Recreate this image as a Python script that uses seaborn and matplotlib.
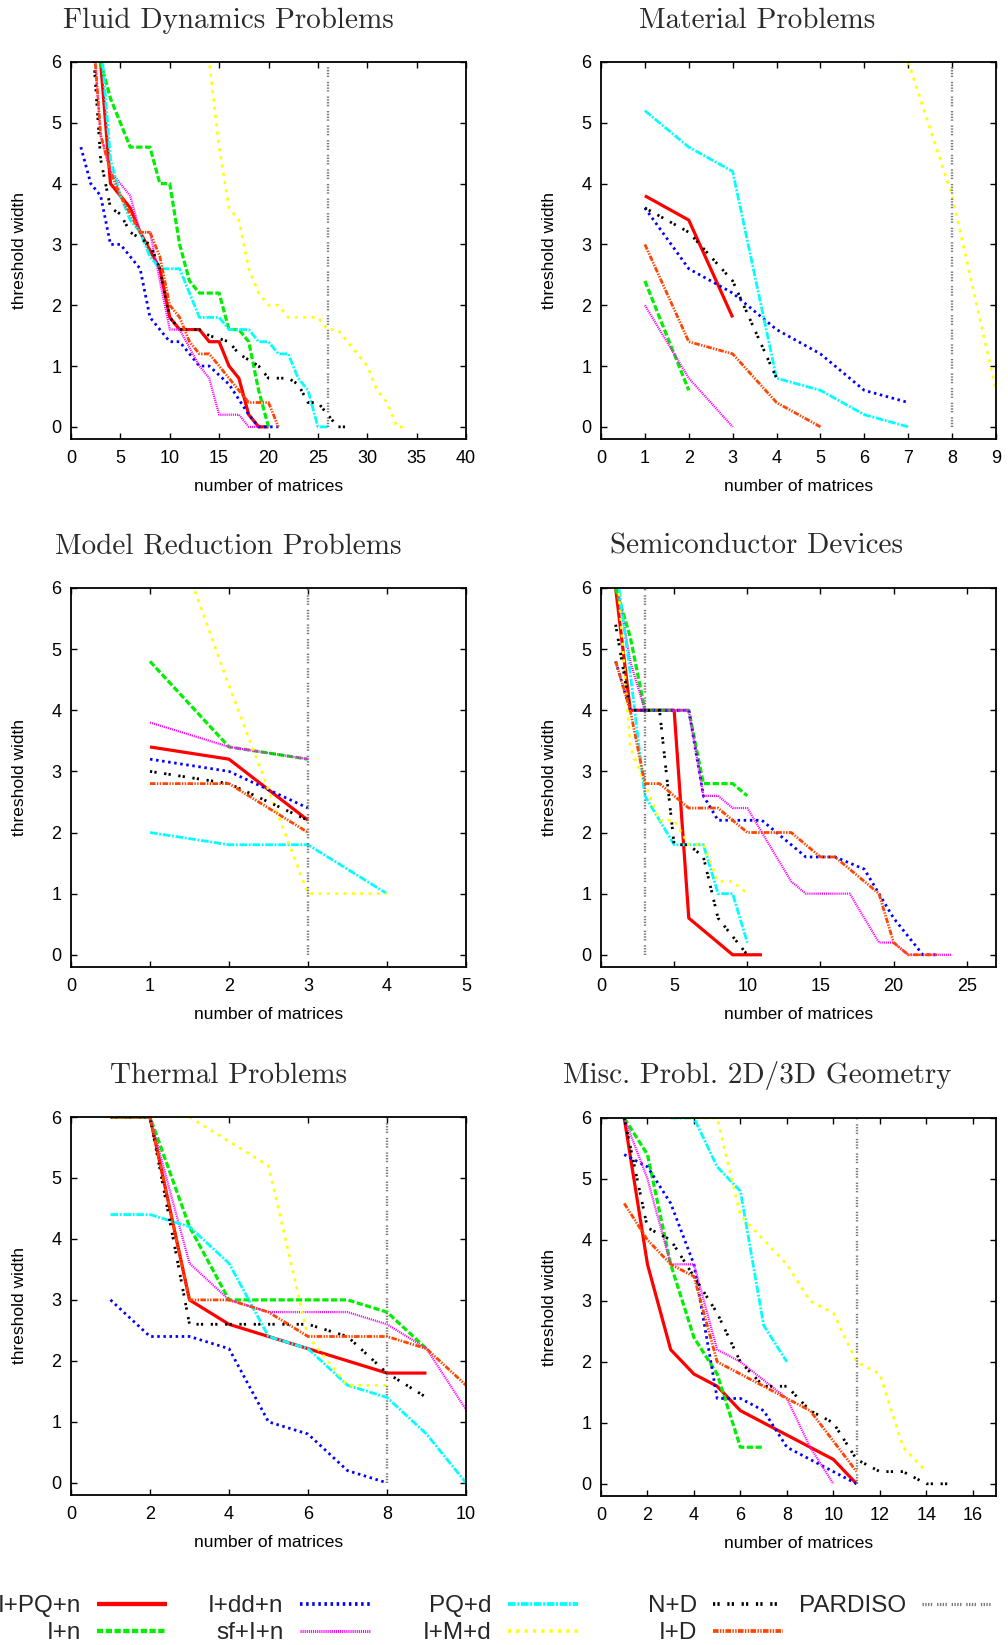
import matplotlib
matplotlib.use("Agg")
import matplotlib.pyplot as plt
import pandas as pd
import seaborn as sns

# ---------------- data ----------------
SERIES = ["I+PQ+n", "I+n", "I+dd+n", "sf+I+n", "PQ+d", "I+M+d", "N+D", "I+D"]

TITLES = ["Fluid Dynamics Problems", "Material Problems", "Model Reduction Problems",
          "Semiconductor Devices", "Thermal Problems", "Misc. Probl. 2D/3D Geometry"]

PARDISO_X = [26, 8, 3, 3, 8, 11]

XMAX = [40, 9, 5, 27, 10, 17]
XTICK_STEP = [5, 1, 1, 5, 2, 2]

FLUID = {
    "I+PQ+n": ([3, 4, 5, 6, 7, 9, 10, 11, 13, 14, 15, 16, 17, 18, 19, 20],
               [6.0, 4.0, 3.8, 3.6, 3.2, 2.6, 1.8, 1.6, 1.6, 1.4, 1.4, 1.0, 0.8, 0.2, 0.0, 0.0]),
    "I+n": ([3, 4, 5, 6, 8, 9, 10, 11, 12, 13, 15, 16, 17, 18, 19, 20],
            [6.0, 5.4, 5.0, 4.6, 4.6, 4.0, 4.0, 3.0, 2.4, 2.2, 2.2, 1.6, 1.6, 1.4, 0.6, 0.0]),
    "I+dd+n": ([1, 2, 3, 4, 5, 7, 8, 10, 11, 13, 14, 16, 18, 19, 21],
               [4.6, 4.0, 3.8, 3.0, 3.0, 2.6, 1.8, 1.4, 1.4, 1.0, 1.0, 0.7, 0.2, 0.0, 0.0]),
    "sf+I+n": ([2, 3, 4, 5, 6, 7, 8, 9, 10, 11, 12, 13, 14, 15, 17, 18, 19],
               [7.0, 4.8, 4.2, 4.0, 3.8, 3.2, 3.2, 2.4, 1.6, 1.6, 1.3, 1.0, 0.8, 0.2, 0.2, 0.0, 0.0]),
    "PQ+d": ([3, 4, 5, 6, 7, 8, 9, 11, 12, 13, 15, 16, 18, 19, 20, 21, 22, 23, 24, 25, 26],
             [6.4, 4.4, 3.8, 3.4, 3.2, 2.8, 2.6, 2.6, 2.2, 1.8, 1.8, 1.6, 1.6, 1.4, 1.4, 1.2, 1.2, 0.8, 0.6, 0.0, 0.0]),
    "I+M+d": ([13, 14, 15, 16, 17, 18, 19, 20, 21, 22, 25, 26, 27, 28, 29, 30, 31, 32, 33, 34],
              [7.6, 6.0, 4.6, 3.6, 3.4, 2.6, 2.2, 2.0, 2.0, 1.8, 1.8, 1.6, 1.6, 1.4, 1.2, 1.0, 0.6, 0.4, 0.0, 0.0]),
    "N+D": ([2, 3, 4, 5, 6, 8, 9, 10, 11, 13, 14, 16, 17, 19, 20, 22, 23, 24, 25, 26, 27, 28],
            [6.8, 4.4, 3.6, 3.5, 3.2, 3.0, 2.6, 1.8, 1.6, 1.6, 1.5, 1.4, 1.2, 1.0, 0.8, 0.8, 0.7, 0.4, 0.4, 0.2, 0.0, 0.0]),
    "I+D": ([2, 3, 4, 5, 6, 7, 8, 9, 10, 11, 12, 13, 14, 16, 18, 20, 21],
            [7.0, 4.8, 4.2, 3.8, 3.5, 3.2, 3.2, 2.8, 2.0, 1.8, 1.4, 1.2, 1.2, 0.8, 0.4, 0.4, 0.0]),
}

MATERIAL = {
    "I+PQ+n": ([1, 2, 3], [3.8, 3.4, 1.8]),
    "I+n": ([1, 2], [2.4, 0.6]),
    "I+dd+n": ([1, 2, 3, 4, 5, 6, 7], [3.6, 2.6, 2.2, 1.6, 1.2, 0.6, 0.4]),
    "sf+I+n": ([1, 2, 3], [2.0, 0.8, 0.0]),
    "PQ+d": ([1, 2, 3, 4, 5, 6, 7], [5.2, 4.6, 4.2, 0.8, 0.6, 0.2, 0.0]),
    "I+M+d": ([7, 8, 9], [6.0, 3.8, 0.6]),
    "N+D": ([1, 2, 3, 4], [3.6, 3.2, 2.4, 0.8]),
    "I+D": ([1, 2, 3, 4, 5], [3.0, 1.4, 1.2, 0.4, 0.0]),
}

MODEL = {
    "I+PQ+n": ([1, 2, 3], [3.4, 3.2, 2.2]),
    "I+n": ([1, 2, 3], [4.8, 3.4, 3.2]),
    "I+dd+n": ([1, 2, 3], [3.2, 3.0, 2.4]),
    "sf+I+n": ([1, 2, 3], [3.8, 3.4, 3.2]),
    "PQ+d": ([1, 2, 3, 4], [2.0, 1.8, 1.8, 1.0]),
    "I+M+d": ([1, 2, 3, 4], [8.0, 4.4, 1.0, 1.0]),
    "N+D": ([1, 2, 3], [3.0, 2.8, 2.2]),
    "I+D": ([1, 2, 3], [2.8, 2.8, 2.0]),
}

SEMI = {
    "I+PQ+n": ([1, 2, 5, 6, 9, 11], [6.0, 4.0, 4.0, 0.6, 0.0, 0.0]),
    "I+n": ([1, 2, 3, 6, 7, 9, 10], [6.0, 5.2, 4.0, 4.0, 2.8, 2.8, 2.6]),
    "I+dd+n": ([1, 2, 6, 7, 8, 11, 12, 14, 16, 18, 19, 20, 21, 22, 23],
               [4.8, 4.0, 4.0, 2.6, 2.2, 2.2, 2.0, 1.6, 1.6, 1.4, 1.0, 0.6, 0.3, 0.0, 0.0]),
    "sf+I+n": ([1, 2, 3, 6, 7, 8, 9, 10, 11, 13, 14, 17, 19, 20, 21, 24],
               [6.2, 4.8, 4.0, 4.0, 2.6, 2.6, 2.4, 2.4, 2.0, 1.2, 1.0, 1.0, 0.2, 0.2, 0.0, 0.0]),
    "PQ+d": ([1, 2, 3, 4, 5, 7, 8, 9, 10], [6.4, 4.6, 2.6, 2.2, 1.8, 1.8, 1.0, 1.0, 0.2]),
    "I+M+d": ([1, 2, 3, 4, 5, 6, 7, 8, 9, 10], [6.6, 3.4, 2.8, 2.2, 2.2, 1.8, 1.8, 1.2, 1.2, 1.0]),
    "N+D": ([1, 2, 4, 5, 6, 7, 8, 9, 10], [5.4, 4.0, 4.0, 1.8, 1.8, 1.6, 0.6, 0.3, 0.0]),
    "I+D": ([1, 2, 3, 4, 6, 8, 10, 13, 15, 16, 19, 20, 21, 23],
            [4.8, 4.0, 2.8, 2.8, 2.4, 2.4, 2.0, 2.0, 1.6, 1.6, 1.0, 0.2, 0.0, 0.0]),
}

THERMAL = {
    "I+PQ+n": ([1, 2, 3, 4, 6, 8, 9], [6.0, 6.0, 3.0, 2.6, 2.2, 1.8, 1.8]),
    "I+n": ([1, 2, 3, 4, 7, 8, 9], [6.0, 6.0, 4.2, 3.0, 3.0, 2.8, 2.2]),
    "I+dd+n": ([1, 2, 3, 4, 5, 6, 7, 8], [3.0, 2.4, 2.4, 2.2, 1.0, 0.8, 0.2, 0.0]),
    "sf+I+n": ([1, 2, 3, 4, 5, 7, 8, 9, 10], [6.0, 6.0, 3.6, 3.0, 2.8, 2.8, 2.6, 2.2, 1.2]),
    "PQ+d": ([1, 2, 3, 4, 5, 6, 7, 8, 9, 10], [4.4, 4.4, 4.2, 3.6, 2.4, 2.2, 1.6, 1.4, 0.8, 0.0]),
    "I+M+d": ([3, 5, 6, 7, 8], [6.0, 5.2, 2.4, 1.6, 1.6]),
    "N+D": ([1, 2, 3, 6, 7, 8, 9], [6.0, 6.0, 2.6, 2.6, 2.4, 1.8, 1.4]),
    "I+D": ([1, 2, 3, 4, 5, 6, 8, 9, 10], [6.0, 6.0, 3.0, 3.0, 2.8, 2.4, 2.4, 2.2, 1.6]),
}

MISC = {
    "I+PQ+n": ([1, 2, 3, 4, 5, 6, 7, 8, 9, 10, 11], [6.0, 3.6, 2.2, 1.8, 1.6, 1.2, 1.0, 0.8, 0.6, 0.4, 0.0]),
    "I+n": ([1, 2, 3, 4, 5, 6, 7], [6.0, 5.4, 3.6, 2.4, 1.8, 0.6, 0.6]),
    "I+dd+n": ([1, 2, 3, 4, 5, 6, 7, 8, 9, 10, 11], [5.4, 5.2, 4.6, 3.6, 1.4, 1.4, 1.2, 0.6, 0.4, 0.2, 0.0]),
    "sf+I+n": ([1, 2, 3, 4, 5, 6, 8, 9, 10], [6.0, 5.0, 3.6, 3.6, 2.2, 2.0, 1.4, 0.6, 0.0]),
    "PQ+d": ([3, 4, 5, 6, 7, 8], [6.0, 6.0, 5.2, 4.8, 2.6, 2.0]),
    "I+M+d": ([3, 5, 6, 7, 8, 9, 10, 11, 12, 13, 14], [6.0, 6.0, 4.4, 4.0, 3.6, 3.0, 2.8, 2.0, 1.8, 0.6, 0.2]),
    "N+D": ([1, 2, 3, 4, 5, 6, 7, 8, 9, 10, 11, 12, 13, 14, 15],
            [6.0, 4.2, 4.0, 3.4, 2.8, 2.0, 1.6, 1.6, 1.2, 1.0, 0.4, 0.2, 0.2, 0.0, 0.0]),
    "I+D": ([1, 2, 3, 4, 5, 6, 8, 9, 10, 11], [4.6, 4.0, 3.6, 3.4, 2.0, 1.8, 1.4, 1.2, 0.7, 0.2]),
}

PANELS = [FLUID, MATERIAL, MODEL, SEMI, THERMAL, MISC]

# ---------------- styles ----------------
STYLE = {
    "I+PQ+n": dict(color="#ff0000", lw=2.3, ls="-"),
    "I+n": dict(color="#00ee00", lw=2.3, ls=(0, (4.5, 1.8))),
    "I+dd+n": dict(color="#0000ff", lw=2.0, ls=(0, (1.8, 2.6))),
    "sf+I+n": dict(color="#ff00ff", lw=1.6, ls=(0, (0.8, 0.7))),
    "PQ+d": dict(color="#00ffff", lw=2.0, ls=(0, (5.5, 1.2, 1.4, 1.2))),
    "I+M+d": dict(color="#ffff00", lw=1.9, ls=(0, (2.2, 3.8))),
    "N+D": dict(color="#000000", lw=2.0, ls=(0, (1.6, 1.6, 1.6, 5.5))),
    "I+D": dict(color="#ff4500", lw=2.0, ls=(0, (4.0, 1.0, 1.0, 1.0, 1.0, 1.0))),
    "PARDISO": dict(color="#7a7a7a", lw=1.7, ls=(0, (1.0, 1.0, 1.0, 1.0, 1.0, 1.0, 1.0, 3.5))),
}

sns.set_theme(style="ticks")
plt.rcParams["font.family"] = ["Liberation Sans", "DejaVu Sans"]
plt.rcParams["lines.scale_dashes"] = False
plt.rcParams["lines.solid_capstyle"] = "butt"
plt.rcParams["lines.dash_capstyle"] = "butt"

W, H = 1008, 1645
fig = plt.figure(figsize=(W / 100, H / 100), dpi=100)
fig.patch.set_facecolor("white")

BOXES = [(71, 62, 466, 439), (601, 62, 996, 439),
         (71, 588, 466, 967), (601, 588, 996, 967),
         (71, 1117, 466, 1495), (601, 1118, 996, 1496)]
TITLE_POS = [(228, 28), (757, 28), (228, 554), (757, 554), (228, 1083), (757, 1083)]

handles = {}
for i, (data, box) in enumerate(zip(PANELS, BOXES)):
    x0, y0, x1, y1 = box
    ax = fig.add_axes([x0 / W, 1 - y1 / H, (x1 - x0) / W, (y1 - y0) / H])
    ax.set_facecolor("white")
    for name in SERIES:
        xs, ys = data[name]
        st = STYLE[name]
        df = pd.DataFrame({"x": xs, "y": ys})
        sns.lineplot(data=df, x="x", y="y", ax=ax, sort=False, estimator=None,
                     color=st["color"], lw=st["lw"], linestyle=st["ls"],
                     legend=False, label=name)
        if i == 0:
            handles[name] = ax.lines[-1]
    pv = PARDISO_X[i]
    dfp = pd.DataFrame({"x": [pv, pv], "y": [0, 6]})
    st = STYLE["PARDISO"]
    sns.lineplot(data=dfp, x="x", y="y", ax=ax, sort=False, estimator=None,
                 color=st["color"], lw=st["lw"], linestyle=st["ls"],
                 legend=False, label="PARDISO")
    if i == 0:
        handles["PARDISO"] = ax.lines[-1]

    ax.set_xlim(0, XMAX[i])
    ax.set_ylim(-0.2, 6)
    ax.set_xticks(list(range(0, XMAX[i] + 1, XTICK_STEP[i])))
    ax.set_yticks(list(range(0, 7)))
    ax.tick_params(direction="in", top=True, right=True, length=4.5, width=1.0,
                   labelsize=13, colors="black")
    ax.tick_params(axis="x", pad=8)
    ax.tick_params(axis="y", pad=7)
    for sp in ax.spines.values():
        sp.set_visible(True)
        sp.set_color("black")
        sp.set_linewidth(1.3)
    ax.set_xlabel("number of matrices", fontsize=12.5, color="black")
    ax.set_ylabel("threshold width", fontsize=12.5, color="black")
    ax.xaxis.set_label_coords(0.5, -0.105)
    ax.yaxis.set_label_coords(-0.112, 0.5)
    tx, ty = TITLE_POS[i]
    fig.text(tx / W, 1 - ty / H, TITLES[i], family="cmr10", fontsize=21,
             ha="center", va="baseline", color="#2a2a2a")

# legend: five columns, text left of the line sample
COLS = [(["I+PQ+n", "I+n"], 167), (["I+dd+n", "sf+I+n"], 370),
        (["PQ+d", "I+M+d"], 578), (["N+D", "I+D"], 783), (["PARDISO"], 992)]
for names, xr in COLS:
    leg = fig.legend([handles[n] for n in names], names, loc="upper right",
                     bbox_to_anchor=(xr / W, 1 - 1595 / H), bbox_transform=fig.transFigure,
                     frameon=False, markerfirst=False, borderpad=0, borderaxespad=0,
                     handlelength=2.9, handletextpad=0.65, labelspacing=0.22, fontsize=17.5)
    for h, n in zip(leg.legend_handles, names):
        h.set_linewidth(STYLE[n]["lw"] * 1.35)

fig.savefig("out.png", dpi=100, facecolor="white")
